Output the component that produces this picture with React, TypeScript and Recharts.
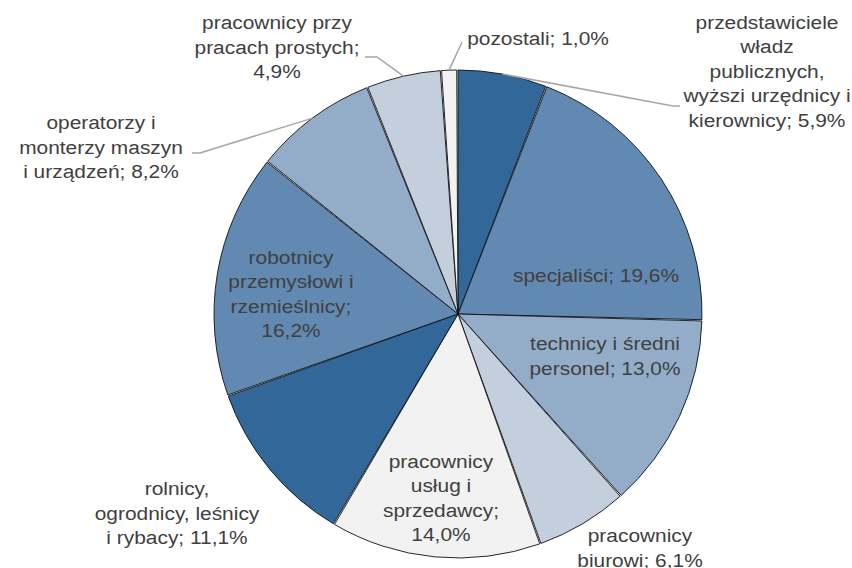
import React from "react";
import { PieChart, Pie, Cell } from "recharts";

const categories = [
  "przedstawiciele władz publicznych, wyżsi urzędnicy i kierownicy",
  "specjaliści",
  "technicy i średni personel",
  "pracownicy biurowi",
  "pracownicy usług i sprzedawcy",
  "rolnicy, ogrodnicy, leśnicy i rybacy",
  "robotnicy przemysłowi i rzemieślnicy",
  "operatorzy i monterzy maszyn i urządzeń",
  "pracownicy przy pracach prostych",
  "pozostali",
];

const shares = [5.9, 19.6, 13.0, 6.1, 14.0, 11.1, 16.2, 8.2, 4.9, 1.0];

const labelLines = [
  ["przedstawiciele", "władz", "publicznych,", "wyższi urzędnicy i", "kierownicy; 5,9%"],
  ["specjaliści; 19,6%"],
  ["technicy i średni", "personel; 13,0%"],
  ["pracownicy", "biurowi; 6,1%"],
  ["pracownicy", "usług i", "sprzedawcy;", "14,0%"],
  ["rolnicy,", "ogrodnicy, leśnicy", "i rybacy; 11,1%"],
  ["robotnicy", "przemysłowi i", "rzemieślnicy;", "16,2%"],
  ["operatorzy i", "monterzy maszyn", "i urządzeń; 8,2%"],
  ["pracownicy przy", "pracach prostych;", "4,9%"],
  ["pozostali; 1,0%"],
];

const data = categories.map((name, i) => ({ name, value: shares[i] }));

// slice colours, cycling through five shades
const shades = ["#32679A", "#6189B2", "#93ADC9", "#C3CFDD", "#F2F2F2"];

// label block centre relative to pie centre, plus optional leader line points
const labelPos: { dx: number; dy: number; lead?: [number, number][] }[] = [
  { dx: 309, dy: -243, lead: [[215, -208], [222, -208]] },
  { dx: 138, dy: -39 },
  { dx: 147, dy: 42 },
  { dx: 182, dy: 234 },
  { dx: -17, dy: 184 },
  { dx: -281, dy: 199 },
  { dx: -167, dy: -20 },
  { dx: -357, dy: -167, lead: [[-258, -161], [-266, -161]] },
  { dx: -181, dy: -267, lead: [[-81, -257], [-93, -257]] },
  { dx: 80, dy: -276, lead: [[4, -272]] },
];

const RAD = Math.PI / 180;
const LINE_H = 24.5;

const renderLabel = (props: any) => {
  const { cx, cy, midAngle, outerRadius, index } = props;
  const pos = labelPos[index];
  const lines = labelLines[index];
  const bx = cx + pos.dx;
  const by = cy + pos.dy;
  let leader = null;
  if (pos.lead) {
    const ex = cx + outerRadius * Math.cos(-midAngle * RAD);
    const ey = cy + outerRadius * Math.sin(-midAngle * RAD);
    const pts = [[ex, ey], ...pos.lead.map(([x, y]) => [cx + x, cy + y])];
    leader = (
      <polyline
        points={pts.map((p) => p.join(",")).join(" ")}
        fill="none"
        stroke="#A6A6A6"
        strokeWidth={1.5}
      />
    );
  }
  return (
    <g key={`lbl-${index}`}>
      {leader}
      {lines.map((t, i) => (
        <text
          key={i}
          transform={`translate(${bx},${by + (i - (lines.length - 1) / 2) * LINE_H}) scale(1.1,1)`}
          textAnchor="middle"
          dominantBaseline="central"
          fill="#404040"
          fontSize={19}
          fontFamily="'Liberation Sans', Arial, sans-serif"
        >
          {t}
        </text>
      ))}
    </g>
  );
};

export default function App() {
  return (
    <div style={{ position: "absolute", left: 0, top: 0, width: 852, height: 568, background: "#fff" }}>
      <PieChart width={852} height={568} margin={{ top: 0, right: 0, bottom: 0, left: 0 }}>
        <Pie
          data={data}
          dataKey="value"
          nameKey="name"
          cx={458}
          cy={314}
          outerRadius={244}
          startAngle={90}
          endAngle={-270}
          paddingAngle={0.3}
          stroke="#111"
          strokeWidth={0.9}
          label={renderLabel}
          labelLine={false}
          isAnimationActive={false}
        >
          {data.map((d, i) => (
            <Cell key={d.name} fill={shades[i % shades.length]} />
          ))}
        </Pie>
      </PieChart>
    </div>
  );
}
